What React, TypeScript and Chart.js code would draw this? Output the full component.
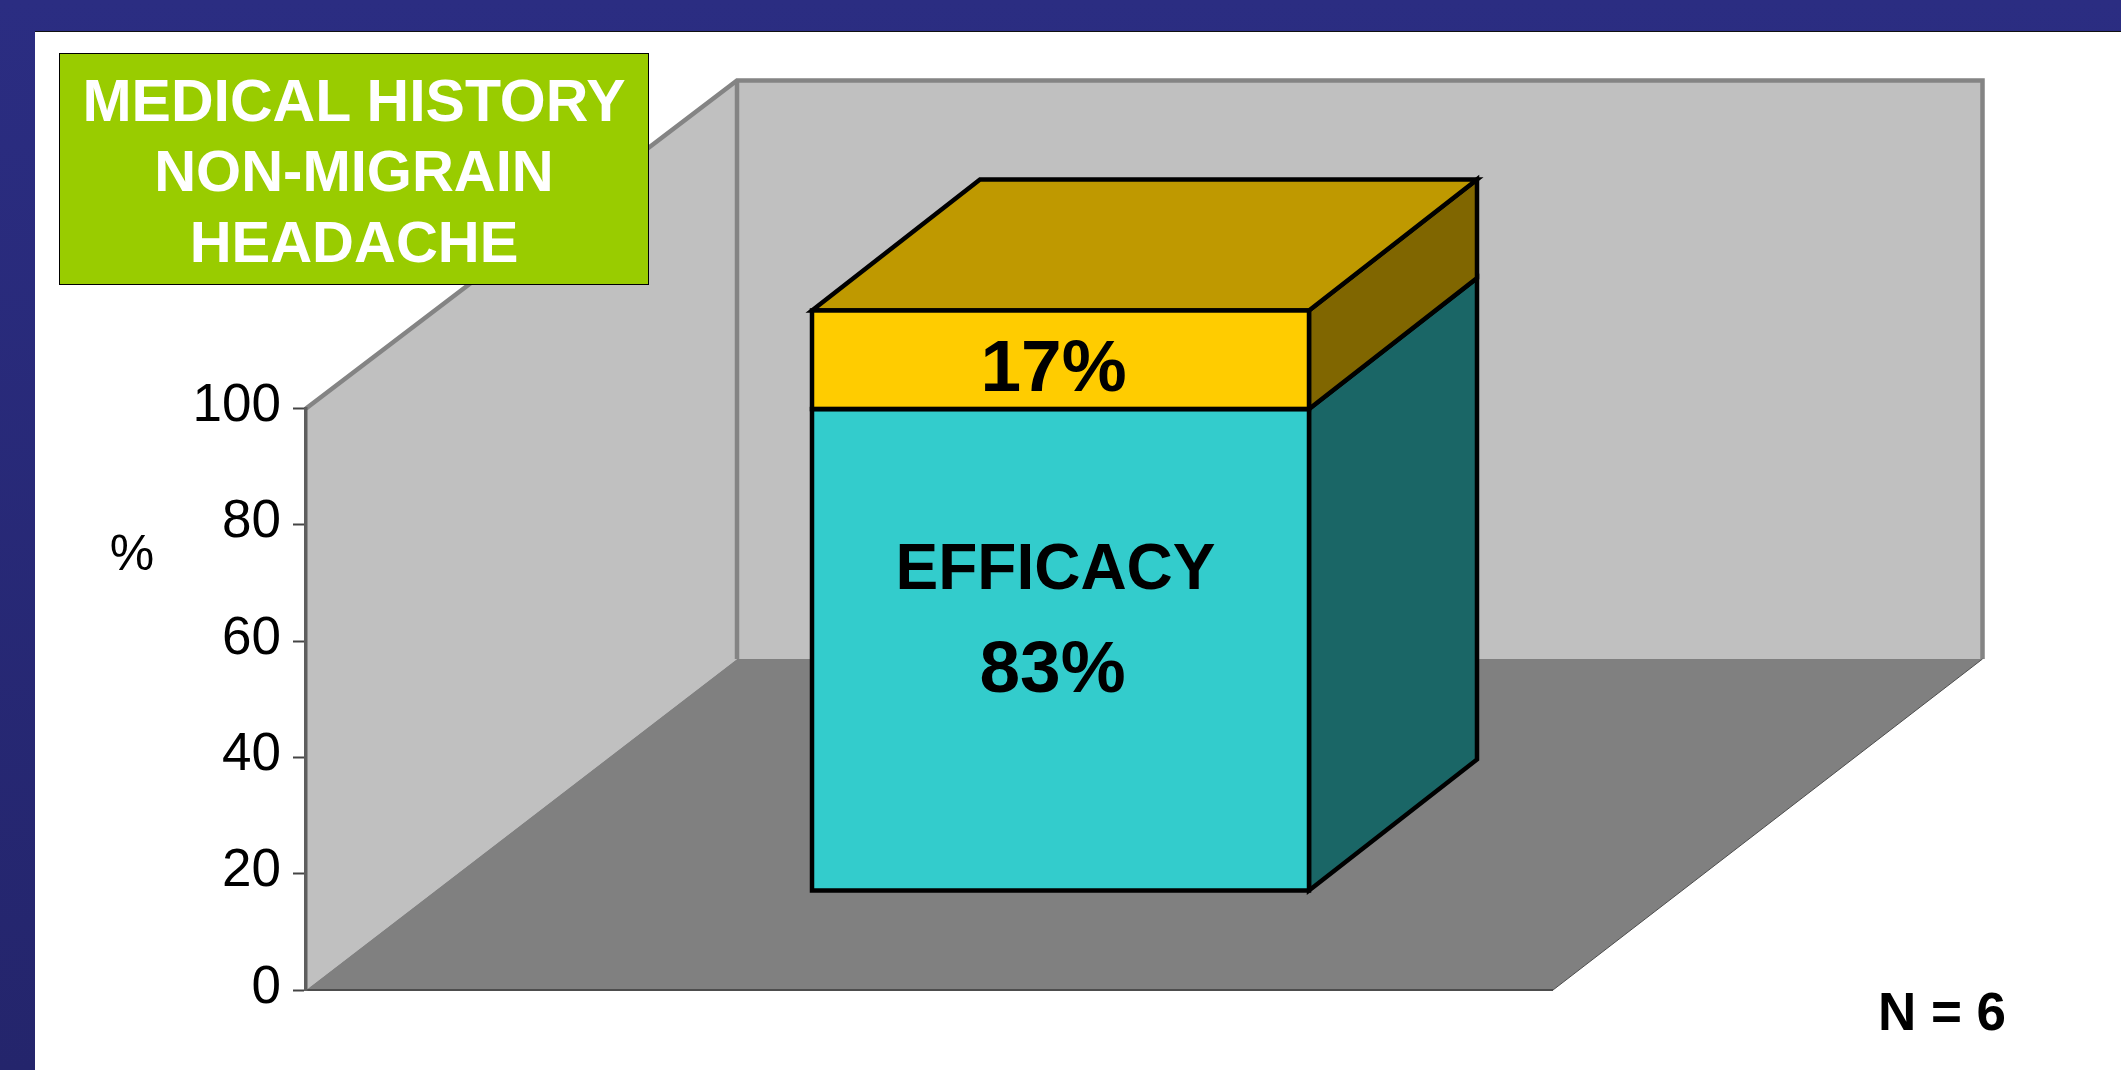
import React, { useEffect, useRef } from "react";
import { Chart, registerables } from "chart.js";

Chart.register(...registerables);

const categories = ["Non-migraine headache"];
const efficacyValues = [83];
const otherValues = [17];
const yTicks = [0, 20, 40, 60, 80, 100];
const titleLines = ["MEDICAL HISTORY", "NON-MIGRAIN", "HEADACHE"];
const titleFontSizes = [59, 58, 58];
const efficacyLabel = "EFFICACY";
const sampleLabel = "N = 6";
const axisUnit = "%";

const FONT = '"Liberation Sans", Arial, sans-serif';

const wallsAndBoxPlugin = {
  id: "wallsAndBox",
  beforeDraw(chart: any) {
    const { ctx, scales } = chart;
    const left = scales.x.left;
    const bottom = scales.y.getPixelForValue(0);
    const top = scales.y.getPixelForValue(100);
    const backX = left + 431;
    const backBottom = bottom - 331;
    const backTop = top - 328;
    const backRight = left + 1676.5;
    const floorRight = left + 1247;
    ctx.save();
    ctx.lineJoin = "miter";
    // left wall
    ctx.fillStyle = "#C0C0C0";
    ctx.beginPath();
    ctx.moveTo(left, bottom);
    ctx.lineTo(left, top);
    ctx.lineTo(backX, backTop);
    ctx.lineTo(backX, backBottom);
    ctx.closePath();
    ctx.fill();
    // back wall
    ctx.fillRect(backX, backTop, backRight - backX, backBottom - backTop);
    // floor
    ctx.fillStyle = "#808080";
    ctx.beginPath();
    ctx.moveTo(left, bottom);
    ctx.lineTo(floorRight, bottom);
    ctx.lineTo(backRight, backBottom);
    ctx.lineTo(backX, backBottom);
    ctx.closePath();
    ctx.fill();
    // wall edges
    ctx.strokeStyle = "#848484";
    ctx.lineWidth = 4.5;
    ctx.beginPath();
    ctx.moveTo(left, top);
    ctx.lineTo(backX, backTop);
    ctx.lineTo(backRight, backTop);
    ctx.lineTo(backRight, backBottom);
    ctx.moveTo(backX, backTop);
    ctx.lineTo(backX, backBottom);
    ctx.stroke();
    // floor front edges
    ctx.strokeStyle = "#4D4D4D";
    ctx.lineWidth = 2;
    ctx.beginPath();
    ctx.moveTo(left, bottom);
    ctx.lineTo(floorRight, bottom);
    ctx.stroke();
    ctx.lineWidth = 1;
    ctx.beginPath();
    ctx.moveTo(floorRight, bottom);
    ctx.lineTo(backRight, backBottom);
    ctx.stroke();
    ctx.restore();
  },
  beforeDatasetsDraw(chart: any) {
    const { ctx } = chart;
    const lower = chart.getDatasetMeta(0).data[0];
    const upper = chart.getDatasetMeta(1).data[0];
    const dx = 168;
    const dy = 131;
    const right = lower.x + lower.width / 2;
    const leftEdge = lower.x - lower.width / 2;
    const face = (pts: number[][], fill: string) => {
      ctx.beginPath();
      pts.forEach((p, i) => (i ? ctx.lineTo(p[0], p[1]) : ctx.moveTo(p[0], p[1])));
      ctx.closePath();
      ctx.fillStyle = fill;
      ctx.fill();
      ctx.strokeStyle = "#000";
      ctx.lineWidth = 4.5;
      ctx.lineJoin = "miter";
      ctx.stroke();
    };
    face(
      [
        [right, lower.base],
        [right + dx, lower.base - dy],
        [right + dx, lower.y - dy],
        [right, lower.y],
      ],
      "#1A6666"
    );
    face(
      [
        [right, lower.y],
        [right + dx, lower.y - dy],
        [right + dx, upper.y - dy],
        [right, upper.y],
      ],
      "#806600"
    );
    face(
      [
        [leftEdge, upper.y],
        [leftEdge + dx, upper.y - dy],
        [right + dx, upper.y - dy],
        [right, upper.y],
      ],
      "#BF9900"
    );
  },
  afterDatasetsDraw(chart: any) {
    const { ctx } = chart;
    const lower = chart.getDatasetMeta(0).data[0];
    const upper = chart.getDatasetMeta(1).data[0];
    ctx.save();
    ctx.strokeStyle = "#000";
    ctx.lineWidth = 4.5;
    ctx.lineJoin = "miter";
    [lower, upper].forEach((bar: any) => {
      ctx.strokeRect(bar.x - bar.width / 2, bar.y, bar.width, bar.base - bar.y);
    });
    ctx.fillStyle = "#000";
    ctx.textAlign = "center";
    ctx.textBaseline = "middle";
    ctx.font = `bold 73px ${FONT}`;
    ctx.fillText(`${otherValues[0]}%`, upper.x - 7, (upper.y + upper.base) / 2 + 11);
    ctx.fillText(`${efficacyValues[0]}%`, lower.x - 8, (lower.y + lower.base) / 2 + 22);
    ctx.font = `bold 64px ${FONT}`;
    ctx.fillText(efficacyLabel, lower.x - 5, (lower.y + lower.base) / 2 - 78);
    ctx.restore();
  },
};

export default function App() {
  const ref = useRef<HTMLCanvasElement>(null);

  useEffect(() => {
    const chart = new Chart(ref.current as HTMLCanvasElement, {
      type: "bar",
      plugins: [wallsAndBoxPlugin],
      data: {
        labels: categories,
        datasets: [
          {
            label: "Efficacy",
            data: efficacyValues,
            backgroundColor: "#33CCCC",
            borderWidth: 0,
            yAxisID: "y2",
            xAxisID: "x",
            barThickness: 497,
            clip: false,
          },
          {
            label: "Other",
            data: otherValues,
            backgroundColor: "#FFCC00",
            borderWidth: 0,
            yAxisID: "y2",
            xAxisID: "x",
            barThickness: 497,
            clip: false,
          },
        ],
      } as any,
      options: {
        animation: false,
        responsive: false,
        layout: { padding: { left: 0, right: 306, top: 408.5, bottom: 80 } },
        plugins: { legend: { display: false }, tooltip: { enabled: false } },
        scales: {
          x: { display: false, stacked: true },
          y2: { display: false, stacked: true, min: -17.155, max: 83.1 },
          y: {
            position: "left",
            min: 0,
            max: 100,
            afterFit: (s: any) => {
              s.width = 306;
            },
            afterBuildTicks: (s: any) => {
              s.ticks = yTicks.map((value) => ({ value }));
            },
            grid: {
              drawOnChartArea: false,
              drawTicks: true,
              tickLength: 13,
              tickColor: "#444444",
              tickWidth: 2,
            },
            border: { display: true, color: "#5E5E5E", width: 3.5 },
            ticks: {
              padding: 12,
              color: "#000",
              autoSkip: false,
              font: { family: FONT, size: 53, lineHeight: "4px" },
              callback: (v: any) => [String(v), ""],
            },
          },
        },
      } as any,
    });
    return () => chart.destroy();
  }, []);

  return (
    <div
      style={{
        position: "fixed",
        inset: 0,
        overflow: "hidden",
        background: "linear-gradient(to bottom, #2B2D82, #24256C)",
      }}
    >
      <div
        style={{
          position: "absolute",
          left: 35,
          top: 31,
          right: 0,
          bottom: 0,
          background: "#fff",
          borderTop: "1.5px solid #111",
        }}
      />
      <canvas
        ref={ref}
        width={2121}
        height={1070}
        style={{ position: "absolute", left: 0, top: 0, display: "block" }}
      />
      <div
        style={{
          position: "absolute",
          left: 59,
          top: 53,
          width: 590,
          height: 232,
          boxSizing: "border-box",
          background: "#99CC00",
          border: "1.5px solid #000",
          color: "#fff",
          fontFamily: FONT,
          fontWeight: "bold",
          lineHeight: "70.5px",
          textAlign: "center",
          paddingTop: 11.5,
          whiteSpace: "nowrap",
        }}
      >
        {titleLines.map((line, i) => (
          <div key={line} style={{ fontSize: titleFontSizes[i] }}>
            {line}
          </div>
        ))}
      </div>
      <div
        style={{
          position: "absolute",
          left: 100,
          top: 523,
          width: 64,
          textAlign: "center",
          fontFamily: FONT,
          fontSize: 50,
          lineHeight: "60px",
          color: "#000",
        }}
      >
        {axisUnit}
      </div>
      <div
        style={{
          position: "absolute",
          left: 1842,
          top: 982,
          width: 200,
          textAlign: "center",
          fontFamily: FONT,
          fontWeight: "bold",
          fontSize: 53,
          lineHeight: "60px",
          color: "#000",
          whiteSpace: "nowrap",
        }}
      >
        {sampleLabel}
      </div>
    </div>
  );
}
